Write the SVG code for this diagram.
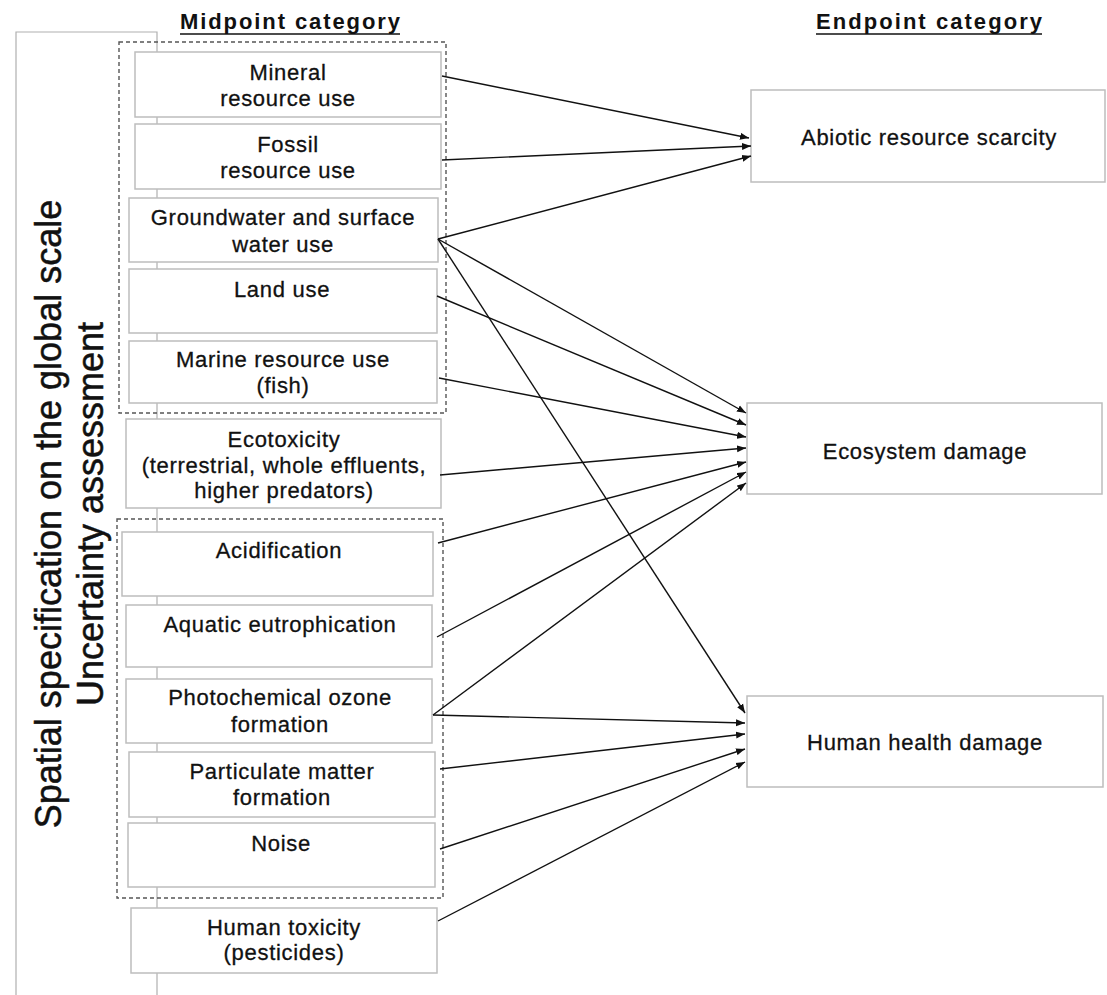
<svg xmlns="http://www.w3.org/2000/svg" width="1107" height="995" viewBox="0 0 1107 995">
<defs>
<marker id="ah" markerWidth="10" markerHeight="8" refX="9" refY="4" orient="auto" markerUnits="userSpaceOnUse">
<path d="M0,0.5 L9,4 L0,7.5 Z" fill="#111"/>
</marker>
<style>
.box{fill:#fff;stroke:#bdbdbd;stroke-width:1.5}
.dash{fill:none;stroke:#555;stroke-width:1.4;stroke-dasharray:4 3}
.t{font-family:"Liberation Sans",Arial,sans-serif;font-size:22px;fill:#111;stroke:#111;stroke-width:0.3;text-anchor:middle;letter-spacing:0.7px}
.h{font-family:"Liberation Sans",Arial,sans-serif;font-size:22px;fill:#111;text-anchor:middle;font-weight:bold}
.v{font-family:"Liberation Sans",Arial,sans-serif;font-size:36px;fill:#111;stroke:#111;stroke-width:0.5;text-anchor:middle}
.c line{stroke:#111;stroke-width:1.4;marker-end:url(#ah)}
.br{fill:none;stroke:#b0b0b0;stroke-width:1.2}
</style>
</defs>
<rect width="1107" height="995" fill="#fff"/>

<g id="bracket">
<polyline class="br" points="16,995 16,32 157,32 157,995"/>
</g>

<g id="headers">
<text class="h" x="290" y="29" textLength="220" lengthAdjust="spacing">Midpoint category</text>
<line x1="180" y1="34" x2="400" y2="34" stroke="#111" stroke-width="1.5"/>
<text class="h" x="929" y="29" textLength="226" lengthAdjust="spacing">Endpoint category</text>
<line x1="816" y1="34" x2="1042" y2="34" stroke="#111" stroke-width="1.5"/>
</g>

<g id="side-labels">
<text class="v" transform="translate(61,514) rotate(-90)">Spatial specification on the global scale</text>
<text class="v" transform="translate(103,514) rotate(-90)">Uncertainty assessment</text>
</g>

<g id="group-resources">
<rect class="dash" x="119" y="42" width="327" height="371"/>
</g>
<g id="group-regional">
<rect class="dash" x="117" y="519" width="326" height="379"/>
</g>

<g id="mineral">
<rect class="box" x="135" y="52" width="306" height="65"/>
<text class="t" x="288" y="80">Mineral</text>
<text class="t" x="288" y="106">resource use</text>
</g>
<g id="fossil">
<rect class="box" x="135" y="124" width="306" height="65"/>
<text class="t" x="288" y="152">Fossil</text>
<text class="t" x="288" y="178">resource use</text>
</g>
<g id="water">
<rect class="box" x="129" y="198" width="309" height="64"/>
<text class="t" x="283" y="225">Groundwater and surface</text>
<text class="t" x="283" y="252">water use</text>
</g>
<g id="land">
<rect class="box" x="129" y="269" width="308" height="64"/>
<text class="t" x="282" y="297">Land use</text>
</g>
<g id="marine">
<rect class="box" x="129" y="341" width="308" height="62"/>
<text class="t" x="283" y="367">Marine resource use</text>
<text class="t" x="283" y="393">(fish)</text>
</g>
<g id="ecotox">
<rect class="box" x="126" y="419" width="315" height="89"/>
<text class="t" x="284" y="447">Ecotoxicity</text>
<text class="t" x="284" y="473">(terrestrial, whole effluents,</text>
<text class="t" x="284" y="498">higher predators)</text>
</g>
<g id="acid">
<rect class="box" x="122" y="532" width="311" height="64"/>
<text class="t" x="279" y="558">Acidification</text>
</g>
<g id="eutro">
<rect class="box" x="126" y="605" width="306" height="62"/>
<text class="t" x="280" y="632">Aquatic eutrophication</text>
</g>
<g id="photo">
<rect class="box" x="126" y="679" width="306" height="64"/>
<text class="t" x="280" y="705">Photochemical ozone</text>
<text class="t" x="280" y="732">formation</text>
</g>
<g id="pm">
<rect class="box" x="129" y="752" width="306" height="65"/>
<text class="t" x="282" y="779">Particulate matter</text>
<text class="t" x="282" y="805">formation</text>
</g>
<g id="noise">
<rect class="box" x="128" y="823" width="307" height="64"/>
<text class="t" x="281" y="851">Noise</text>
</g>
<g id="humantox">
<rect class="box" x="131" y="908" width="306" height="65"/>
<text class="t" x="284" y="935">Human toxicity</text>
<text class="t" x="284" y="960">(pesticides)</text>
</g>

<g id="abiotic">
<rect class="box" x="751" y="90" width="354" height="92"/>
<text class="t" x="929" y="145">Abiotic resource scarcity</text>
</g>
<g id="ecosystem">
<rect class="box" x="747" y="403" width="355" height="91"/>
<text class="t" x="925" y="459">Ecosystem damage</text>
</g>
<g id="health">
<rect class="box" x="747" y="696" width="356" height="91"/>
<text class="t" x="925" y="750">Human health damage</text>
</g>

<g id="connectors" class="c">
<line x1="442" y1="76" x2="749" y2="138"/>
<line x1="442" y1="160" x2="751" y2="146"/>
<line x1="438" y1="239" x2="751" y2="156"/>
<line x1="438" y1="239" x2="746" y2="413"/>
<line x1="438" y1="239" x2="745" y2="713"/>
<line x1="437" y1="296" x2="746" y2="425"/>
<line x1="439" y1="378" x2="746" y2="437"/>
<line x1="440" y1="475" x2="746" y2="448"/>
<line x1="438" y1="543" x2="746" y2="462"/>
<line x1="437" y1="637" x2="746" y2="472"/>
<line x1="433" y1="715" x2="746" y2="483"/>
<line x1="433" y1="715" x2="745" y2="723"/>
<line x1="440" y1="769" x2="745" y2="734"/>
<line x1="440" y1="849" x2="745" y2="749"/>
<line x1="438" y1="921" x2="745" y2="762"/>
</g>
</svg>
